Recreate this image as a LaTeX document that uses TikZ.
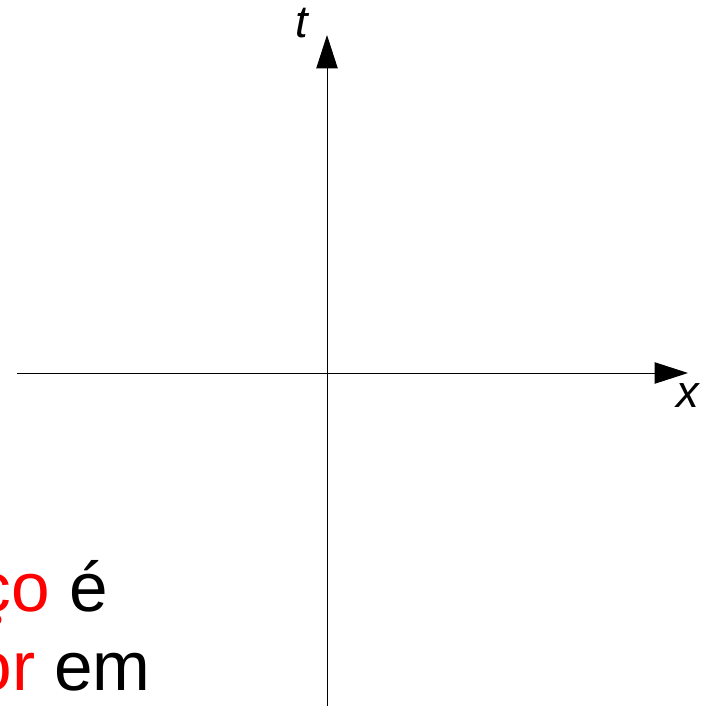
\documentclass[tikz,border=0pt]{standalone}
\usepackage{fontspec}
\setmainfont{Liberation Sans}
\usepackage{xcolor}
\definecolor{vizRed}{HTML}{FF0000}
\usetikzlibrary{arrows.meta}

\begin{document}
\begin{tikzpicture}[x=0.75pt, y=-0.75pt]
  \useasboundingbox (0,0) rectangle (709,706);
  \coordinate (xStart) at (17,373);
  \coordinate (xEnd) at (688,373);
  \coordinate (tStart) at (327,706);
  \coordinate (tEnd) at (327,35);
  \draw[line width=0.75pt, -{Triangle[length=25pt, width=16pt]}] (xStart) -- (xEnd);
  \draw[line width=0.75pt, -{Triangle[length=25pt, width=16pt]}] (tStart) -- (tEnd);
  \node[anchor=base, inner sep=0, font=\fontsize{34}{34}\selectfont\itshape] (tLabel) at (302,38) {t};
  \node[anchor=base, inner sep=0, font=\fontsize{34}{34}\selectfont\itshape] (xLabel) at (688,407) {x};
  \node[anchor=base east, inner sep=0, font=\fontsize{52}{52}\selectfont] (lineOne) at (108,611) {\textcolor{vizRed}{ço} é};
  \node[anchor=base east, inner sep=0, font=\fontsize{52}{52}\selectfont] (lineTwo) at (151,690) {\textcolor{vizRed}{or} em};
\end{tikzpicture}
\end{document}
